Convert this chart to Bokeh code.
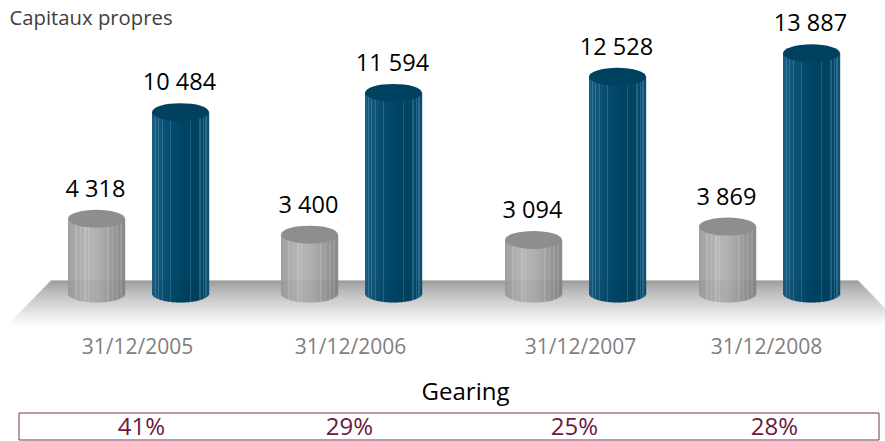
from bokeh.plotting import figure
from bokeh.models import Range1d
from bokeh.core.properties import value
from bokeh.embed import file_html
from bokeh.resources import INLINE

dates = ["31/12/2005", "31/12/2006", "31/12/2007", "31/12/2008"]
grey_values = [4318, 3400, 3094, 3869]
blue_values = [10484, 11594, 12528, 13887]
gearing = ["41%", "29%", "25%", "28%"]

# layout (reference pixel positions)
W, H = 885, 441
GREY_X = [96, 309, 533, 727]
BLUE_X = [180, 393, 617, 811]
DATE_X = [137, 350, 580, 766]
GEAR_X = [141, 349, 574, 774]
ZERO_PX = 293
PX_PER_UNIT = 0.0173
FONT = "Open Sans"


def v(py):
    return (ZERO_PX - py) / PX_PER_UNIT


p = figure(width=W, height=H, output_backend="svg", toolbar_location=None,
           x_range=Range1d(0, W), y_range=Range1d(v(H), v(0)),
           min_border=0, outline_line_color=None, background_fill_color="white",
           margin=(0, 0, 0, 0))
p.axis.visible = False
p.grid.visible = False

# floor with vertical fade
FLOOR_TOP, FLOOR_BOT = 280, 325
for py in range(FLOOR_TOP, FLOOR_BOT):
    t = (py - FLOOR_TOP) / (FLOOR_BOT - FLOOR_TOP)
    c = int(140 + 115 * min(1, t ** 0.8))
    xl = 50 - (py - FLOOR_TOP) * 0.98
    xr = 858 + (py - FLOOR_TOP) * 0.98
    p.quad(left=[max(xl, 0)], right=[min(xr, W)], top=[v(py)], bottom=[v(py + 1.3)],
           fill_color=(c, c, c), line_color=None)


def shade(rel, palette):
    # rel: 0..1 across the cylinder
    stops = palette
    x = rel * (len(stops) - 1)
    i = min(int(x), len(stops) - 2)
    f = x - i
    return tuple(int(stops[i][k] * (1 - f) + stops[i + 1][k] * f) for k in range(3))


GREY_STOPS = [(160, 160, 160), (172, 172, 172), (182, 182, 182), (178, 178, 178),
              (166, 166, 166), (150, 150, 150), (138, 138, 138)]
BLUE_STOPS = [(30, 95, 130), (16, 84, 118), (4, 76, 110), (0, 70, 103),
              (0, 66, 98), (3, 68, 100), (18, 80, 112)]
GREY_LIGHT = [0.14, 0.22, 0.3, 0.36, 0.7, 0.78, 0.86, 0.93]
BLUE_LIGHT = [0.06, 0.11, 0.18, 0.32, 0.68, 0.84, 0.9, 0.95]
CYL_W, ELL_H = 57, 18


def cylinder(cx, val, stops, lights, boost, top_col):
    top_py = ZERO_PX - val * PX_PER_UNIT
    for i in range(CYL_W):
        rel = (i + 0.5) / CYL_W
        dx = 2 * rel - 1
        sag = (ELL_H / 2) * (1 - dx * dx) ** 0.5
        c = shade(rel, stops)
        if any(abs(rel - s) < 0.012 for s in lights):
            c = tuple(min(255, k + boost) for k in c)
        xl = cx - CYL_W / 2 + i
        p.quad(left=[xl], right=[xl + 1.2], top=[val], bottom=[v(ZERO_PX + sag)],
               fill_color=c, line_color=None)
        p.quad(left=[xl], right=[xl + 1.2], top=[v(FLOOR_TOP)], bottom=[v(ZERO_PX + sag)],
               fill_color="black", fill_alpha=0.04, line_color=None)
    p.ellipse(x=[cx], y=[val], width=CYL_W, height=ELL_H, height_units="screen",
              fill_color=top_col, line_color=None)
    label = f"{val:,}".replace(",", " ")
    p.text(x=[cx - 1], y=[v(top_py - 31)], text=[label], text_font=value(FONT),
           text_font_size="23.5px", text_color="black", text_align="center",
           text_baseline="middle")


for x, val in zip(GREY_X, grey_values):
    cylinder(x, val, GREY_STOPS, GREY_LIGHT, 12, "#8e8e8e")
for x, val in zip(BLUE_X, blue_values):
    cylinder(x, val, BLUE_STOPS, BLUE_LIGHT, 30, "#00415f")

p.text(x=DATE_X, y=[v(345)] * 4, text=dates, text_font=value(FONT), text_font_size="21px",
       text_color="#7f7f7f", text_align="center", text_baseline="middle")

p.text(x=[9], y=[v(16)], text=["Capitaux propres"], text_font=value(FONT),
       text_font_size="20.3px", text_color="#404040", text_align="left", text_baseline="middle")
p.text(x=[465], y=[v(390)], text=["Gearing"], text_font=value(FONT),
       text_font_size="24px", text_color="black", text_align="center", text_baseline="middle")

p.quad(left=[18.5], right=[878.5], top=[v(412.5)], bottom=[v(439.5)],
       fill_color=None, line_color="#7d2f57", line_width=1)
p.text(x=GEAR_X, y=[v(425)] * 4, text=gearing, text_font=value(FONT), text_font_size="24px",
       text_color="#6a1a40", text_align="center", text_baseline="middle")

open("out.html", "w").write(file_html(p, INLINE))
